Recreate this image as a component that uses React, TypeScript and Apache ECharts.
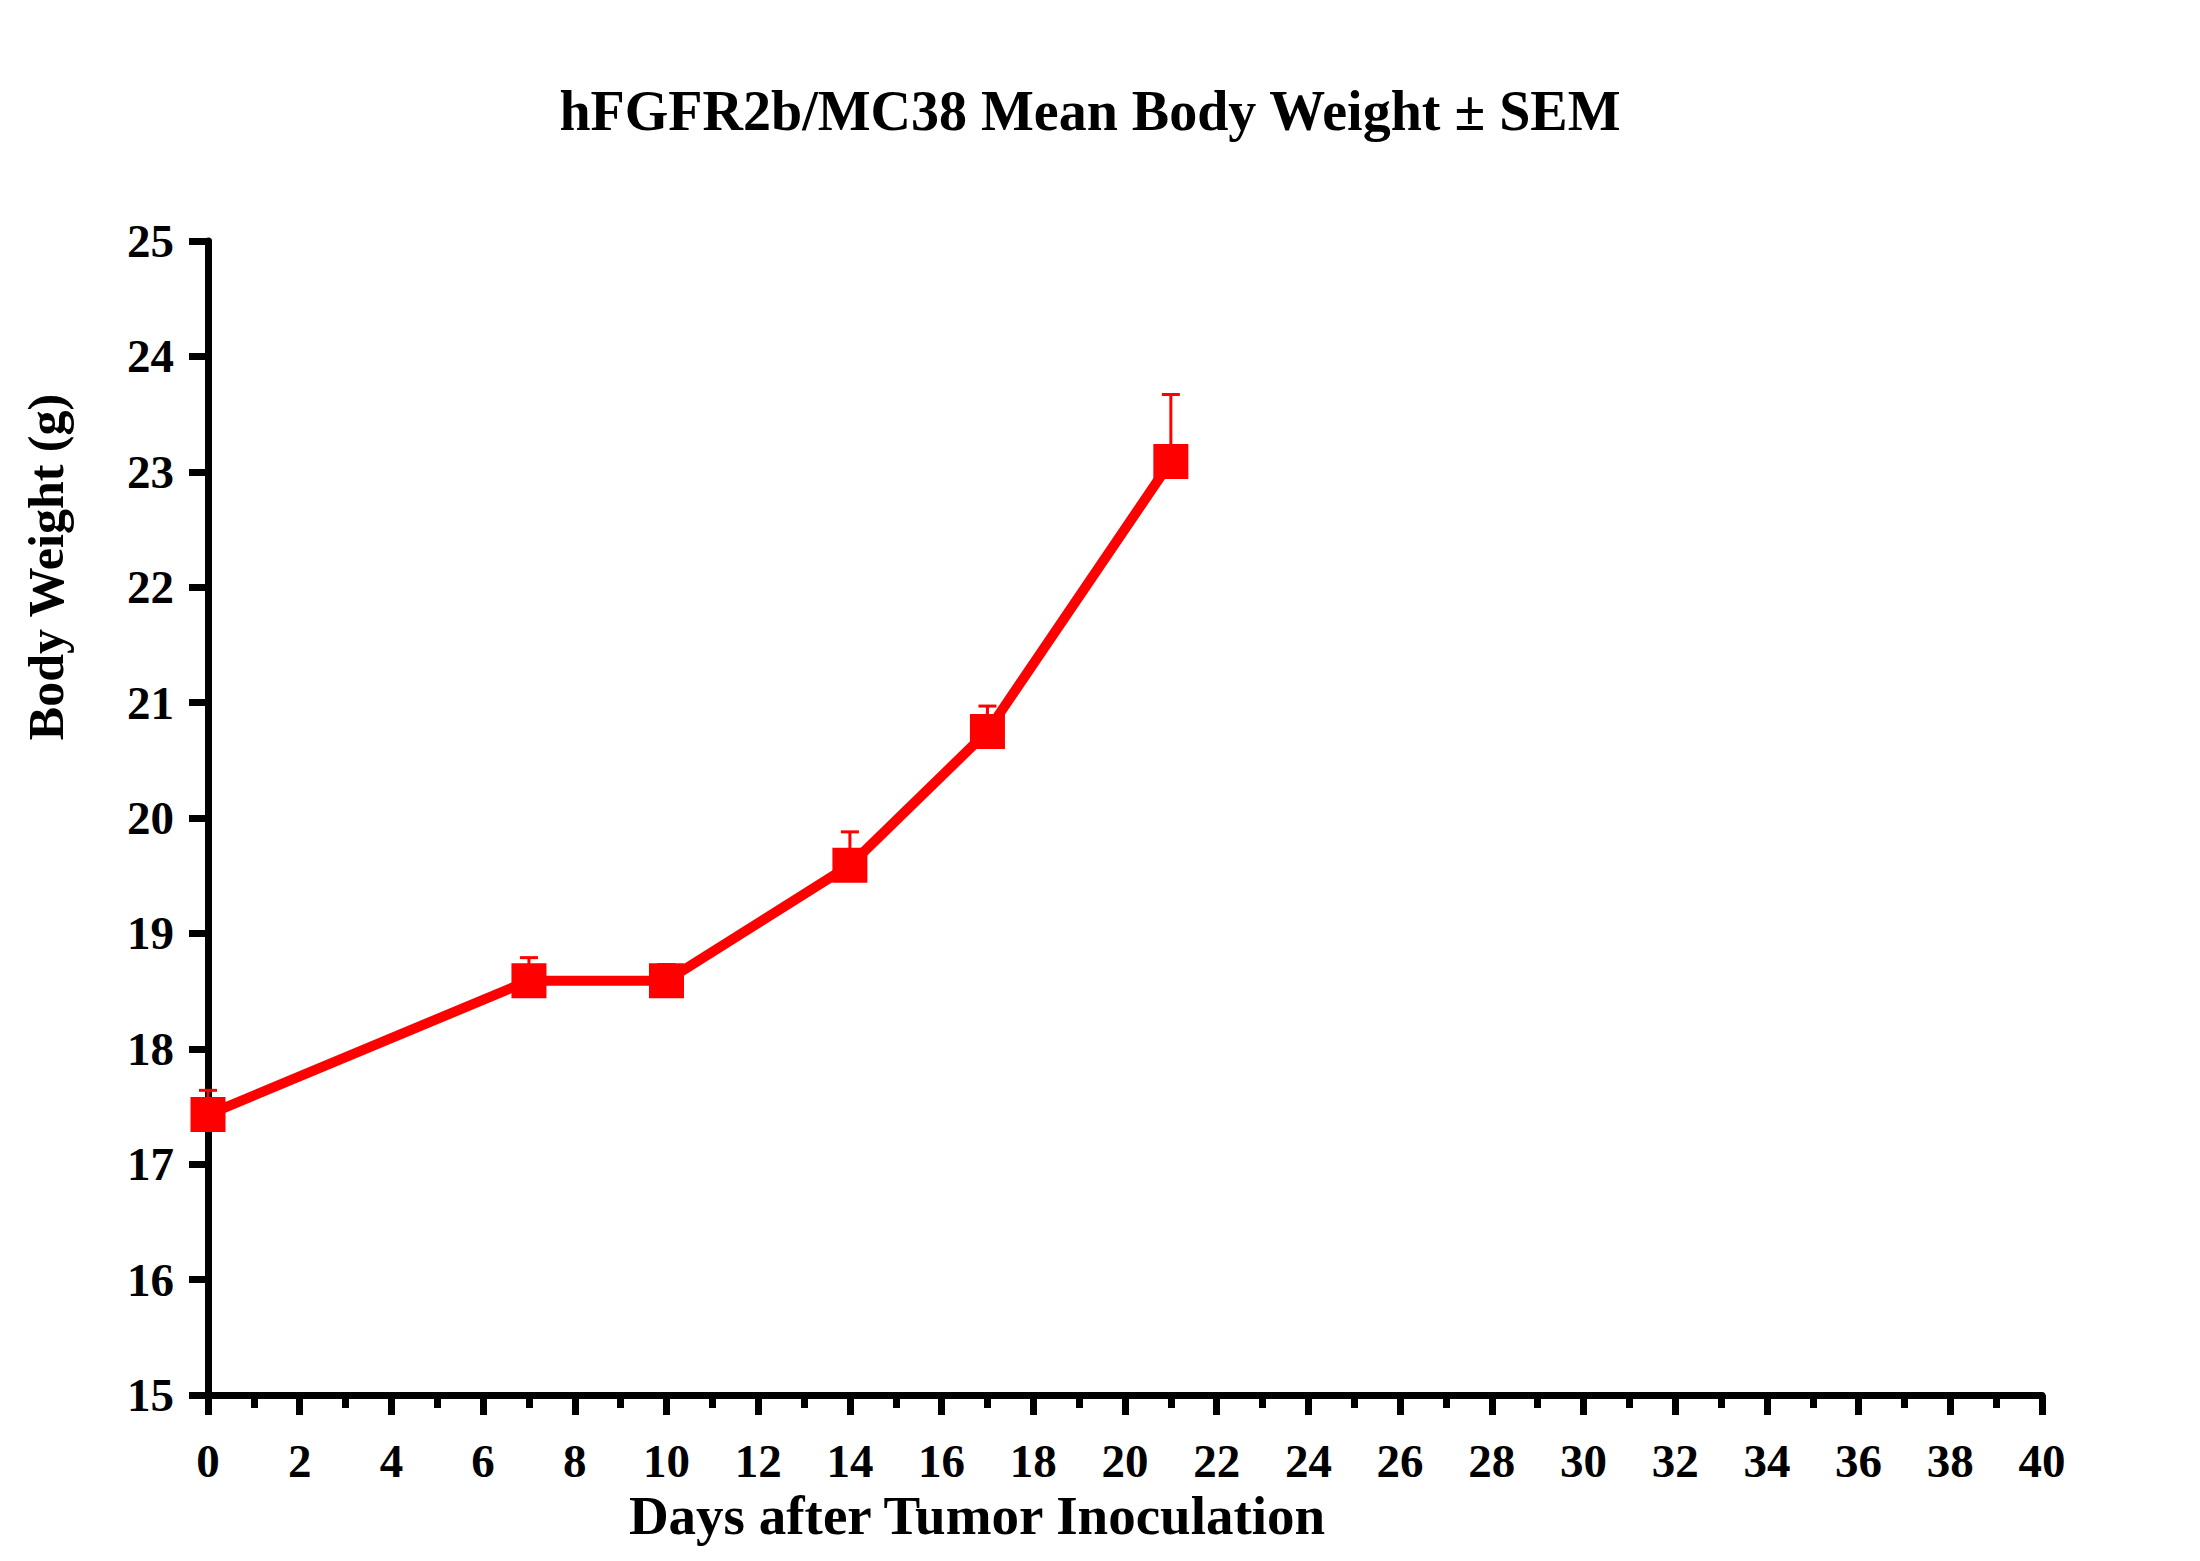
import React, { useEffect, useRef } from "react";
import * as echarts from "echarts";

const titleText = "hFGFR2b/MC38 Mean Body Weight \u00B1 SEM";
const xAxisName = "Days after Tumor Inoculation";
const yAxisName = "Body Weight (g)";

const days = [0, 7, 10, 14, 17, 21];
const meanWeight = [17.43, 18.59, 18.59, 19.59, 20.75, 23.09];
const semWeight = [0.21, 0.2, 0.14, 0.29, 0.22, 0.58];

const xMin = 0;
const xMax = 40;
const xStep = 2;
const yMin = 15;
const yMax = 25;
const yStep = 1;

const FONT = "'Liberation Serif', 'Times New Roman', serif";
const RED = "#ff0000";

export default function App() {
  const ref = useRef<HTMLDivElement>(null);

  useEffect(() => {
    if (!ref.current) return;
    const chart = echarts.init(ref.current, undefined, { renderer: "svg" });
    const lineData = days.map((d, i) => [d, meanWeight[i]]);
    const errData = days.map((d, i) => [d, meanWeight[i], semWeight[i]]);

    chart.setOption({
      animation: false,
      backgroundColor: "#ffffff",
      grid: { left: 208, right: 158, top: 241, bottom: 166 },
      graphic: [
        {
          type: "text",
          x: 1090,
          y: 139,
          style: {
            text: titleText,
            font: `bold 56px ${FONT}`,
            fill: "#000",
            textAlign: "center",
            textVerticalAlign: "bottom",
          },
        },
        {
          type: "text",
          x: 977,
          y: 1543,
          style: {
            text: xAxisName,
            font: `bold 55px ${FONT}`,
            fill: "#000",
            textAlign: "center",
            textVerticalAlign: "bottom",
          },
        },
        {
          type: "text",
          x: 46,
          y: 567,
          rotation: Math.PI / 2,
          style: {
            text: yAxisName,
            font: `bold 50px ${FONT}`,
            fill: "#000",
            textAlign: "center",
            textVerticalAlign: "middle",
          },
        },
      ],
      xAxis: {
        type: "value",
        min: xMin,
        max: xMax,
        interval: xStep,
        splitLine: { show: false },
        axisLine: { show: true, onZero: false, lineStyle: { color: "#000", width: 7 } },
        axisTick: { show: true, length: 20, lineStyle: { color: "#000", width: 7 } },
        minorTick: { show: true, splitNumber: 2, length: 13, lineStyle: { color: "#000", width: 7 } },
        axisLabel: {
          margin: 42,
          color: "#000",
          fontSize: 47,
          fontWeight: "bold",
          fontFamily: FONT,
        },
      },
      yAxis: {
        type: "value",
        min: yMin,
        max: yMax,
        interval: yStep,
        splitLine: { show: false },
        axisLine: { show: true, onZero: false, lineStyle: { color: "#000", width: 7 } },
        axisTick: { show: true, length: 19, lineStyle: { color: "#000", width: 7 } },
        axisLabel: {
          margin: 34,
          color: "#000",
          fontSize: 47,
          fontWeight: "bold",
          fontFamily: FONT,
        },
      },
      series: [
        {
          type: "custom",
          z: 1,
          clip: false,
          data: errData,
          encode: { x: 0, y: 1 },
          renderItem: (params: any, api: any) => {
            const x = api.value(0);
            const y = api.value(1);
            const e = api.value(2);
            const p0 = api.coord([x, y]);
            const p1 = api.coord([x, y + e]);
            return {
              type: "group",
              children: [
                {
                  type: "line",
                  shape: { x1: p0[0], y1: p0[1], x2: p1[0], y2: p1[1] },
                  style: { stroke: RED, lineWidth: 3 },
                },
                {
                  type: "line",
                  shape: { x1: p1[0] - 9, y1: p1[1], x2: p1[0] + 9, y2: p1[1] },
                  style: { stroke: RED, lineWidth: 3 },
                },
              ],
            };
          },
        },
        {
          type: "line",
          z: 2,
          data: lineData,
          symbol: "rect",
          symbolSize: 35,
          lineStyle: { color: RED, width: 10 },
          itemStyle: { color: RED },
          clip: false,
        },
      ],
    });

    return () => chart.dispose();
  }, []);

  return (
    <div
      ref={ref}
      style={{ position: "fixed", left: 0, top: 0, width: 2200, height: 1561, background: "#fff" }}
    />
  );
}
